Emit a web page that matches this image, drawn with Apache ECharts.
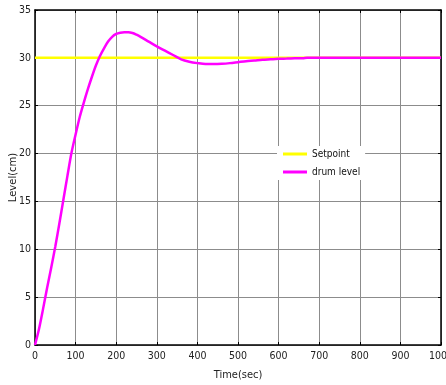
<!DOCTYPE html>
<html>
<head>
<meta charset="utf-8">
<script src="https://cdn.jsdelivr.net/npm/echarts@6/dist/echarts.min.js"></script>
<style>
  html, body { margin: 0; padding: 0; background: #fff; }
  #chart { width: 446px; height: 385px; }
</style>
</head>
<body>
<div id="chart"></div>
<script>
  // drum level response
  var timeSec = [0, 10, 20, 30, 40, 50, 60, 70, 80, 90, 100, 110, 120, 130, 140, 150, 160, 170, 180,
    190, 200, 210, 220, 230, 240, 250, 260, 280, 300, 320, 340, 360, 380, 400, 420, 440, 460, 480, 500,
    520, 540, 560, 580, 600, 620, 640, 660, 670, 700, 800, 900, 1000];
  var drumLevel = [0, 1.7, 3.8, 6, 8.1, 10.3, 12.7, 15.2, 17.7, 20.1, 22, 23.8, 25.3, 26.7, 28, 29.2, 30.2, 31.0, 31.7,
    32.2, 32.5, 32.63, 32.68, 32.68, 32.6, 32.42, 32.2, 31.7, 31.2, 30.75, 30.3, 29.85, 29.6, 29.45, 29.35, 29.35, 29.38, 29.45, 29.55,
    29.65, 29.72, 29.8, 29.85, 29.9, 29.92, 29.95, 29.97, 30.02, 30.02, 30.02, 30.02, 30.02];
  var setpointTime = [0, 1000];
  var setpointLevel = [30, 30];
  var seriesNames = ['Setpoint', 'drum level'];

  var font = '"DejaVu Sans Condensed", "Liberation Sans Narrow", "Liberation Sans", sans-serif';
  var chart = echarts.init(document.getElementById('chart'));

  var gridLine = { show: true, lineStyle: { color: '#8c8c8c', type: 'solid', width: 1 } };
  var boxLine = { show: true, onZero: false, lineStyle: { color: '#000', width: 1.5 } };
  var inTick = { show: true, inside: true, length: 3, lineStyle: { color: '#000' } };
  var label = { color: '#222', fontFamily: font, fontSize: 10.5 };

  var option = {
    animation: false,
    grid: { left: 35, right: 5, top: 10, bottom: 40, containLabel: false, outerBoundsMode: 'none' },
    legend: {
      data: seriesNames,
      orient: 'vertical',
      left: 277,
      top: 146,
      itemWidth: 24,
      itemHeight: 3,
      itemGap: 8,
      padding: [3, 5, 3, 6],
      backgroundColor: '#fff',
      icon: 'rect',
      textStyle: { color: '#111', fontFamily: font, fontSize: 10 }
    },
    xAxis: [{
      type: 'value', min: 0, max: 1000, interval: 100,
      name: 'Time(sec)', nameLocation: 'middle', nameGap: 25,
      nameTextStyle: { color: '#222', fontFamily: font, fontSize: 11 },
      axisLine: boxLine, axisTick: inTick, splitLine: gridLine,
      axisLabel: Object.assign({ margin: 6, formatter: function (v) { return String(v); } }, label)
    }, {
      type: 'value', position: 'top', min: 0, max: 1000, interval: 100,
      axisLine: boxLine, axisTick: inTick, splitLine: { show: false }, axisLabel: { show: false }
    }],
    yAxis: [{
      type: 'value', min: 0, max: 35, interval: 5,
      name: 'Level(cm)', nameLocation: 'middle', nameGap: 17, nameMoveOverlap: false,
      nameTextStyle: { color: '#222', fontFamily: 'DejaVu Sans, sans-serif', fontSize: 10 },
      axisLine: boxLine, axisTick: inTick, splitLine: gridLine,
      axisLabel: Object.assign({ margin: 4 }, label)
    }, {
      type: 'value', position: 'right', min: 0, max: 35, interval: 5,
      axisLine: boxLine, axisTick: inTick, splitLine: { show: false }, axisLabel: { show: false }
    }],
    series: [{
      name: seriesNames[0],
      type: 'line',
      data: setpointTime.map(function (t, i) { return [t, setpointLevel[i]]; }),
      showSymbol: false,
      lineStyle: { color: '#ffff00', width: 2.5 },
      itemStyle: { color: '#ffff00' }
    }, {
      name: seriesNames[1],
      type: 'line',
      smooth: 0.3,
      data: timeSec.map(function (t, i) { return [t, drumLevel[i]]; }),
      showSymbol: false,
      lineStyle: { color: '#ff00ff', width: 2.5 },
      itemStyle: { color: '#ff00ff' }
    }]
  };
  chart.setOption(option);
</script>
</body>
</html>
